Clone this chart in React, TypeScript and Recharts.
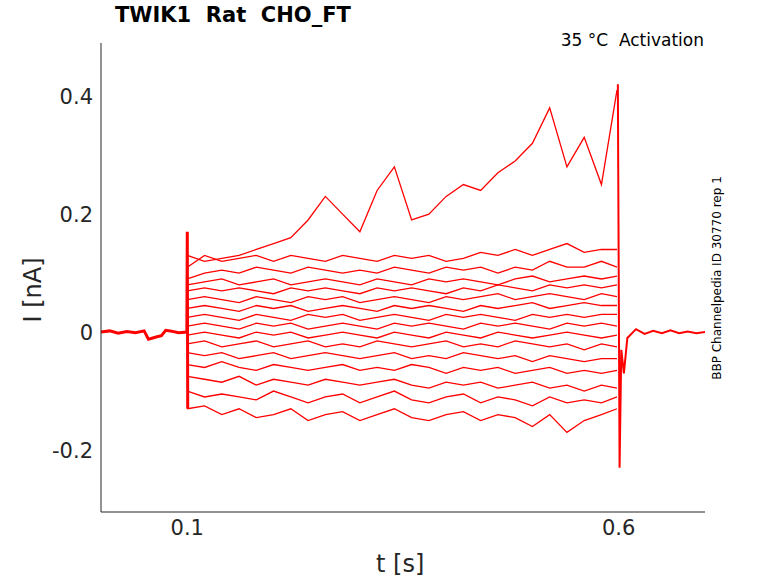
import React from "react";
import { LineChart, Line, XAxis, YAxis } from "recharts";

const stepTimes = [0.1,0.12,0.14,0.16,0.18,0.2,0.22,0.24,0.26,0.28,0.3,0.32,0.34,0.36,0.38,0.4,0.42,0.44,0.46,0.48,0.5,0.52,0.54,0.56,0.58,0.598];
const traces: number[][] = [
  [0.13,0.12,0.125,0.13,0.14,0.15,0.16,0.19,0.23,0.2,0.17,0.24,0.28,0.19,0.2,0.23,0.25,0.24,0.27,0.29,0.32,0.38,0.28,0.33,0.25,0.41],
  [0.11,0.13,0.12,0.125,0.13,0.12,0.13,0.125,0.12,0.13,0.125,0.12,0.13,0.125,0.13,0.12,0.125,0.135,0.13,0.14,0.13,0.14,0.15,0.135,0.14,0.14],
  [0.09,0.1,0.105,0.1,0.11,0.105,0.1,0.11,0.105,0.1,0.105,0.1,0.11,0.105,0.1,0.11,0.105,0.11,0.1,0.11,0.105,0.12,0.11,0.11,0.12,0.11],
  [0.08,0.085,0.09,0.08,0.085,0.09,0.08,0.085,0.09,0.085,0.08,0.09,0.085,0.08,0.09,0.085,0.09,0.085,0.08,0.09,0.095,0.085,0.09,0.095,0.09,0.095],
  [0.07,0.075,0.07,0.075,0.07,0.065,0.075,0.07,0.075,0.07,0.065,0.075,0.07,0.075,0.07,0.065,0.075,0.07,0.08,0.075,0.07,0.08,0.075,0.08,0.075,0.08],
  [0.055,0.06,0.055,0.05,0.06,0.055,0.05,0.06,0.055,0.06,0.05,0.055,0.06,0.055,0.05,0.06,0.055,0.06,0.065,0.055,0.06,0.065,0.06,0.055,0.065,0.06],
  [0.04,0.045,0.04,0.035,0.045,0.04,0.045,0.035,0.04,0.045,0.04,0.035,0.045,0.04,0.045,0.04,0.035,0.045,0.04,0.045,0.05,0.04,0.045,0.05,0.045,0.045],
  [0.025,0.03,0.025,0.02,0.03,0.025,0.02,0.03,0.025,0.03,0.02,0.025,0.03,0.025,0.02,0.03,0.025,0.03,0.025,0.02,0.03,0.025,0.03,0.025,0.03,0.03],
  [0.01,0.015,0.01,0.005,0.015,0.01,0.015,0.005,0.01,0.015,0.01,0.005,0.015,0.01,0.015,0.01,0.005,0.015,0.01,0.015,0.01,0.005,0.015,0.01,0.015,0.01],
  [-0.005,0.0,-0.005,-0.01,0.0,-0.005,0.0,-0.01,-0.005,0.0,-0.005,-0.01,0.0,-0.005,-0.01,0.0,-0.005,-0.01,0.0,-0.005,-0.01,-0.005,0.0,-0.005,-0.01,-0.005],
  [-0.02,-0.015,-0.025,-0.02,-0.015,-0.025,-0.02,-0.015,-0.025,-0.02,-0.025,-0.015,-0.02,-0.025,-0.02,-0.015,-0.025,-0.02,-0.025,-0.015,-0.02,-0.025,-0.02,-0.03,-0.02,-0.025],
  [-0.035,-0.04,-0.035,-0.045,-0.04,-0.035,-0.045,-0.04,-0.035,-0.04,-0.045,-0.04,-0.035,-0.045,-0.04,-0.045,-0.035,-0.04,-0.045,-0.04,-0.05,-0.04,-0.045,-0.05,-0.045,-0.045],
  [-0.055,-0.06,-0.05,-0.06,-0.065,-0.055,-0.06,-0.065,-0.06,-0.055,-0.065,-0.06,-0.065,-0.055,-0.06,-0.07,-0.06,-0.065,-0.06,-0.07,-0.065,-0.06,-0.07,-0.065,-0.07,-0.065],
  [-0.075,-0.08,-0.085,-0.075,-0.09,-0.08,-0.085,-0.09,-0.08,-0.085,-0.09,-0.085,-0.08,-0.09,-0.095,-0.085,-0.09,-0.085,-0.095,-0.09,-0.085,-0.095,-0.09,-0.1,-0.09,-0.095],
  [-0.1,-0.11,-0.105,-0.11,-0.115,-0.1,-0.11,-0.12,-0.11,-0.105,-0.12,-0.11,-0.1,-0.115,-0.12,-0.11,-0.105,-0.12,-0.11,-0.115,-0.125,-0.11,-0.12,-0.115,-0.12,-0.11],
  [-0.13,-0.125,-0.14,-0.13,-0.145,-0.14,-0.13,-0.15,-0.14,-0.135,-0.15,-0.14,-0.13,-0.145,-0.15,-0.14,-0.135,-0.15,-0.14,-0.145,-0.16,-0.14,-0.17,-0.15,-0.14,-0.13],
];
const preTimes = [0,0.01,0.02,0.03,0.04,0.05,0.055,0.06,0.065,0.07,0.075,0.08,0.09,0.0995,0.1,0.1005];
const preValues = [0,0.002,-0.002,0.001,-0.001,0.002,-0.012,-0.01,-0.008,-0.006,0.003,0.002,-0.001,0.0,0.17,-0.13];
const postTimes = [0.599,0.6,0.601,0.603,0.606,0.61,0.62,0.63,0.64,0.65,0.66,0.67,0.68,0.69,0.7];
const postValues = [0.42,0.1,-0.23,-0.03,-0.07,-0.01,0.005,-0.003,0.002,-0.002,0.003,-0.002,0.001,-0.002,0.0];

const RED = "#ff0000";
const toData = (ts: number[], vs: number[]) => ts.map((t, i) => ({ t, v: vs[i] }));

export default function App() {
  return (
    <div style={{ position: "absolute", left: 0, top: 0, width: 778, height: 583, background: "#fff", fontFamily: "DejaVu Sans" }}>
      <LineChart width={778} height={583} margin={{ top: 43, right: 73, left: 41, bottom: 41 }}>
        <XAxis dataKey="t" type="number" domain={[0, 0.7]} ticks={[0.1, 0.6]} height={30} allowDuplicatedCategory={false}
          tick={{ fontSize: 21, fill: "#262626" }} tickLine={false} stroke="#262626" tickFormatter={(v) => String(v)} />
        <YAxis type="number" domain={[-0.305, 0.49]} ticks={[-0.2, 0, 0.2, 0.4]} width={60}
          tick={{ fontSize: 21, fill: "#262626" }} tickLine={false} stroke="#262626" tickFormatter={(v) => String(v)} />
        <Line data={toData(preTimes, preValues)} dataKey="v" stroke={RED} strokeWidth={3} dot={false} isAnimationActive={false} />
        <Line data={toData(postTimes, postValues)} dataKey="v" stroke={RED} strokeWidth={2} dot={false} isAnimationActive={false} />
        {traces.map((vs, i) => (
          <Line key={i} data={toData(stepTimes, vs)} dataKey="v" stroke={RED} strokeWidth={1.3} dot={false} isAnimationActive={false} />
        ))}
      </LineChart>
      <div style={{ position: "absolute", left: 115, top: 3, fontSize: 21, fontWeight: "bold" }}>TWIK1&nbsp;&nbsp;Rat&nbsp;&nbsp;CHO_FT</div>
      <div style={{ position: "absolute", right: 74, top: 30, fontSize: 17 }}>35 °C&nbsp;&nbsp;Activation</div>
      <div style={{ position: "absolute", left: 376, top: 550, fontSize: 24, color: "#262626" }}>t [s]</div>
      <div style={{ position: "absolute", left: 33, top: 290, fontSize: 24, color: "#262626", transform: "translate(-50%,-50%) rotate(-90deg)", whiteSpace: "nowrap" }}>I [nA]</div>
      <div style={{ position: "absolute", left: 717, top: 278, fontSize: 12, transform: "translate(-50%,-50%) rotate(-90deg)", whiteSpace: "nowrap" }}>BBP Channelpedia ID 30770 rep 1</div>
    </div>
  );
}
